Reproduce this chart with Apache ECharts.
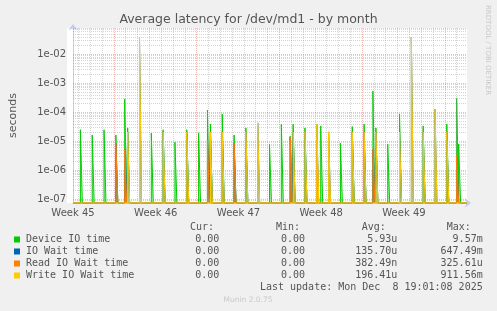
<!DOCTYPE html>
<html><head><meta charset="utf-8">
<script src="https://cdn.jsdelivr.net/npm/echarts@6/dist/echarts.min.js"></script>
<style>html,body{margin:0;padding:0;background:#f0f0f0;}#c{width:497px;height:311px;}</style>
</head><body><div id="c"></div>
<script>
// ---- data (x in hours from left edge of the 33-day window, 2 h per pixel) ----
const weekLabels = ['Week 45', 'Week 46', 'Week 47', 'Week 48', 'Week 49'];
const weekLabelHours = [0, 168, 336, 504, 672];
const weekStartHours = [83, 251, 419, 587, 755];
const yTickLabels = ['1e-07', '1e-06', '1e-05', '1e-04', '1e-03', '1e-02'];

const deviceIO = [[17,2.5e-5],[41,1.65e-5],[65,2.5e-5],[89,1.65e-5],[107,2.9e-4],[113,2.9e-5],
  [161,1.9e-5],[185,2.5e-5],[209,9.3e-6],[233,2.5e-5],[257,1.97e-5],[275,1.2e-4],[281,3.9e-5],
  [305,8.7e-5],[329,1.65e-5],[353,2.9e-5],[401,8.1e-6],[425,3.9e-5],[443,1.5e-5],[449,3.9e-5],
  [473,2.9e-5],[505,3.4e-5],[545,8.7e-6],[569,3.2e-5],[593,3.9e-5],[611,5.4e-4],[617,2.9e-5],
  [641,8.1e-6],[665,8.7e-5],[713,3.4e-5],[761,3.9e-5],[781,3.0e-4],[785,8.1e-6]];
const ioWait = [[89,8.7e-6],[107,5.1e-6],[113,2.1e-5],[137,3.9e-2],[185,2.1e-5],[233,2.1e-5],
  [275,1.1e-5],[281,2.1e-5],[305,2.1e-5],[329,8.7e-6],[353,2.1e-5],[377,4.3e-5],[443,1.4e-5],
  [449,2.1e-5],[473,2.1e-5],[497,3.9e-5],[521,2.1e-5],[569,2.1e-5],[593,2.1e-5],[611,5.1e-6],
  [617,2.1e-5],[665,2.1e-5],[689,3.9e-2],[713,2.1e-5],[737,1.3e-4],[761,2.1e-5],[781,3.1e-6]];
const readWait = [[89,8.7e-6],[107,5.1e-6],[275,1.1e-5],[329,8.7e-6],[443,1.4e-5],[497,1.4e-5],
  [611,5.1e-6],[781,3.1e-6]];
const writeWait = [[113,2.1e-5],[137,3.9e-2],[185,2.1e-5],[233,2.1e-5],[281,2.1e-5],[305,2.1e-5],
  [353,2.1e-5],[377,4.3e-5],[449,2.1e-5],[473,2.1e-5],[497,3.9e-5],[521,2.1e-5],[569,2.1e-5],
  [593,2.1e-5],[617,2.1e-5],[665,2.1e-5],[689,3.9e-2],[713,2.1e-5],[737,1.3e-4],[761,2.1e-5]];

const seriesNames = ['Device IO time', 'IO Wait time', 'Read IO Wait time', 'Write IO Wait time'];
const curVals = ['0.00', '0.00', '0.00', '0.00'];
const minVals = ['0.00', '0.00', '0.00', '0.00'];
const avgVals = ['5.93u', '135.70u', '382.49n', '196.41u'];
const maxVals = ['9.57m', '647.49m', '325.61u', '911.56m'];
const lastUpdate = 'Last update: Mon Dec  8 19:01:08 2025';

// ---- presentation ----
const colors = ['#00cc00', '#0066b3', '#ff8000', '#ffcc00'];
const X_MIN = 0, X_MAX = 800;
const Y_MIN = 7.45e-8, Y_MAX = 8.07e-2;
const HALF = 2; // half width of a 2-hour sample drawn as a pixel column
const SANS = 'DejaVu Sans';

function spikeLine(points) {
  // zero samples cannot be shown on a log axis: they rest on the axis floor
  const out = [[X_MIN, Y_MIN]];
  points.forEach(([h, v]) => {
    out.push([h - HALF, Y_MIN], [h - HALF, v], [h + HALF, v], [h + HALF, Y_MIN]);
  });
  out.push([X_MAX, Y_MIN]);
  return out;
}

const minorGrid = { color: 'rgba(150,150,150,0.4)', width: 1, type: [1, 1] };
const majorGrid = { color: 'rgba(225,120,120,0.5)', width: 1, type: [1, 1] };
const gridLines = [];
for (let h = 11; h < X_MAX; h += 24) {
  if (!weekStartHours.includes(h)) gridLines.push({ xAxis: h, lineStyle: minorGrid });
}
weekStartHours.forEach(h => gridLines.push({ xAxis: h, lineStyle: majorGrid }));
// horizontal grid on a hidden linear axis measured in decades (log10 of seconds)
for (let e = -8; e <= -1; e++) {
  for (let d = 1; d <= 9; d++) {
    const v = d * Math.pow(10, e);
    if (v <= Y_MIN || v >= Y_MAX) continue;
    gridLines.push({ yAxis: Math.log10(v), lineStyle: d === 1 ? majorGrid : minorGrid });
  }
}

const graphics = [
  { type: 'rect', shape: { x: 67, y: 28, width: 400, height: 175 }, style: { fill: '#ffffff' }, z: -10, silent: true },
  { type: 'text', x: 248.5, y: 19.5, style: { text: 'Average latency for /dev/md1 - by month', fill: '#555', font: '12.5px "DejaVu Sans"', textAlign: 'center', textVerticalAlign: 'middle' } },
  { type: 'text', x: 488, y: 5, rotation: -Math.PI / 2, style: { text: 'RRDTOOL / TOBI OETIKER', fill: '#c8c8c8', font: '7px "DejaVu Sans"', textAlign: 'left', textVerticalAlign: 'middle' } },
  { type: 'text', x: 248, y: 300, style: { text: 'Munin 2.0.75', fill: '#c8c8c8', font: '7.5px "DejaVu Sans"', textAlign: 'center', textVerticalAlign: 'middle' } }
];
const headers = [['Cur:', 190], ['Min:', 276], ['Avg:', 361.7], ['Max:', 446.7]];
headers.forEach(([t, x]) => graphics.push({ type: 'text', x: x, y: 227.5, style: { text: t, fill: '#555', font: '10px "DejaVu Sans Mono"', textAlign: 'left', textVerticalAlign: 'middle' } }));
const colRight = [219.3, 305, 397.3, 482.7];
seriesNames.forEach((name, i) => {
  const y = 239.5 + 12 * i;
  graphics.push({ type: 'rect', shape: { x: 14, y: y - 3, width: 6, height: 6 }, style: { fill: colors[i] } });
  graphics.push({ type: 'text', x: 26, y: y, style: { text: name, fill: '#555', font: '10px "DejaVu Sans Mono"', textAlign: 'left', textVerticalAlign: 'middle' } });
  [curVals[i], minVals[i], avgVals[i], maxVals[i]].forEach((t, j) => {
    graphics.push({ type: 'text', x: colRight[j], y: y, style: { text: t, fill: '#555', font: '10px "DejaVu Sans Mono"', textAlign: 'right', textVerticalAlign: 'middle' } });
  });
});
graphics.push({ type: 'text', x: 482.7, y: 287.5, style: { text: lastUpdate, fill: '#555', font: '10px "DejaVu Sans Mono"', textAlign: 'right', textVerticalAlign: 'middle' } });

const axisLineStyle = { color: '#c4ccf2', width: 1 };
const series = [{
  type: 'line', data: [], z: 1, silent: true, animation: false, yAxisIndex: 1,
  markLine: { silent: true, symbol: 'none', label: { show: false }, animation: false, data: gridLines }
}];
[deviceIO, ioWait, readWait, writeWait].forEach((pts, i) => {
  series.push({
    name: seriesNames[i], type: 'line', data: spikeLine(pts), symbol: 'none', showSymbol: false,
    clip: true, animation: false, z: 3 + i, yAxisIndex: 0,
    lineStyle: { color: colors[i], width: 1 },
    areaStyle: { color: colors[i], opacity: 0.3, origin: 'start' }
  });
});

const chart = echarts.init(document.getElementById('c'), null, { renderer: 'canvas', width: 497, height: 311 });
chart.setOption({
  backgroundColor: '#f0f0f0',
  animation: false,
  grid: { left: 67, top: 28, width: 400, height: 175, containLabel: false },
  xAxis: {
    type: 'value', min: X_MIN, max: X_MAX, interval: 168,
    axisLine: { show: true, lineStyle: axisLineStyle, symbol: ['none', 'arrow'], symbolSize: [7, 6], symbolOffset: [0, 4] },
    axisTick: { show: false }, splitLine: { show: false },
    axisLabel: {
      color: '#555', fontSize: 10, fontFamily: SANS, margin: 5, showMaxLabel: false,
      formatter: v => { const k = weekLabelHours.indexOf(v); return k >= 0 ? weekLabels[k] : ''; }
    }
  },
  yAxis: [{
    type: 'log', logBase: 10, min: Y_MIN, max: Y_MAX,
    name: 'seconds', nameLocation: 'middle', nameRotate: 90, nameGap: 54,
    nameTextStyle: { color: '#555', fontSize: 11, fontFamily: SANS },
    axisLine: { show: true, lineStyle: axisLineStyle, symbol: ['none', 'arrow'], symbolSize: [7, 6], symbolOffset: [0, 4] },
    axisTick: { show: false }, splitLine: { show: false }, minorSplitLine: { show: false },
    axisLabel: {
      color: '#555', fontSize: 10, fontFamily: SANS, margin: 7, showMinLabel: false, showMaxLabel: false,
      formatter: v => {
        const e = Math.round(Math.log10(v));
        if (Math.abs(Math.log10(v) - e) > 1e-6) return '';
        const lbl = '1e-' + String(-e).padStart(2, '0');
        return yTickLabels.includes(lbl) ? lbl : '';
      }
    }
  }, {
    type: 'value', min: Math.log10(Y_MIN), max: Math.log10(Y_MAX), show: false,
    splitLine: { show: false }
  }],
  series: series,
  graphic: graphics
});
</script></body></html>
